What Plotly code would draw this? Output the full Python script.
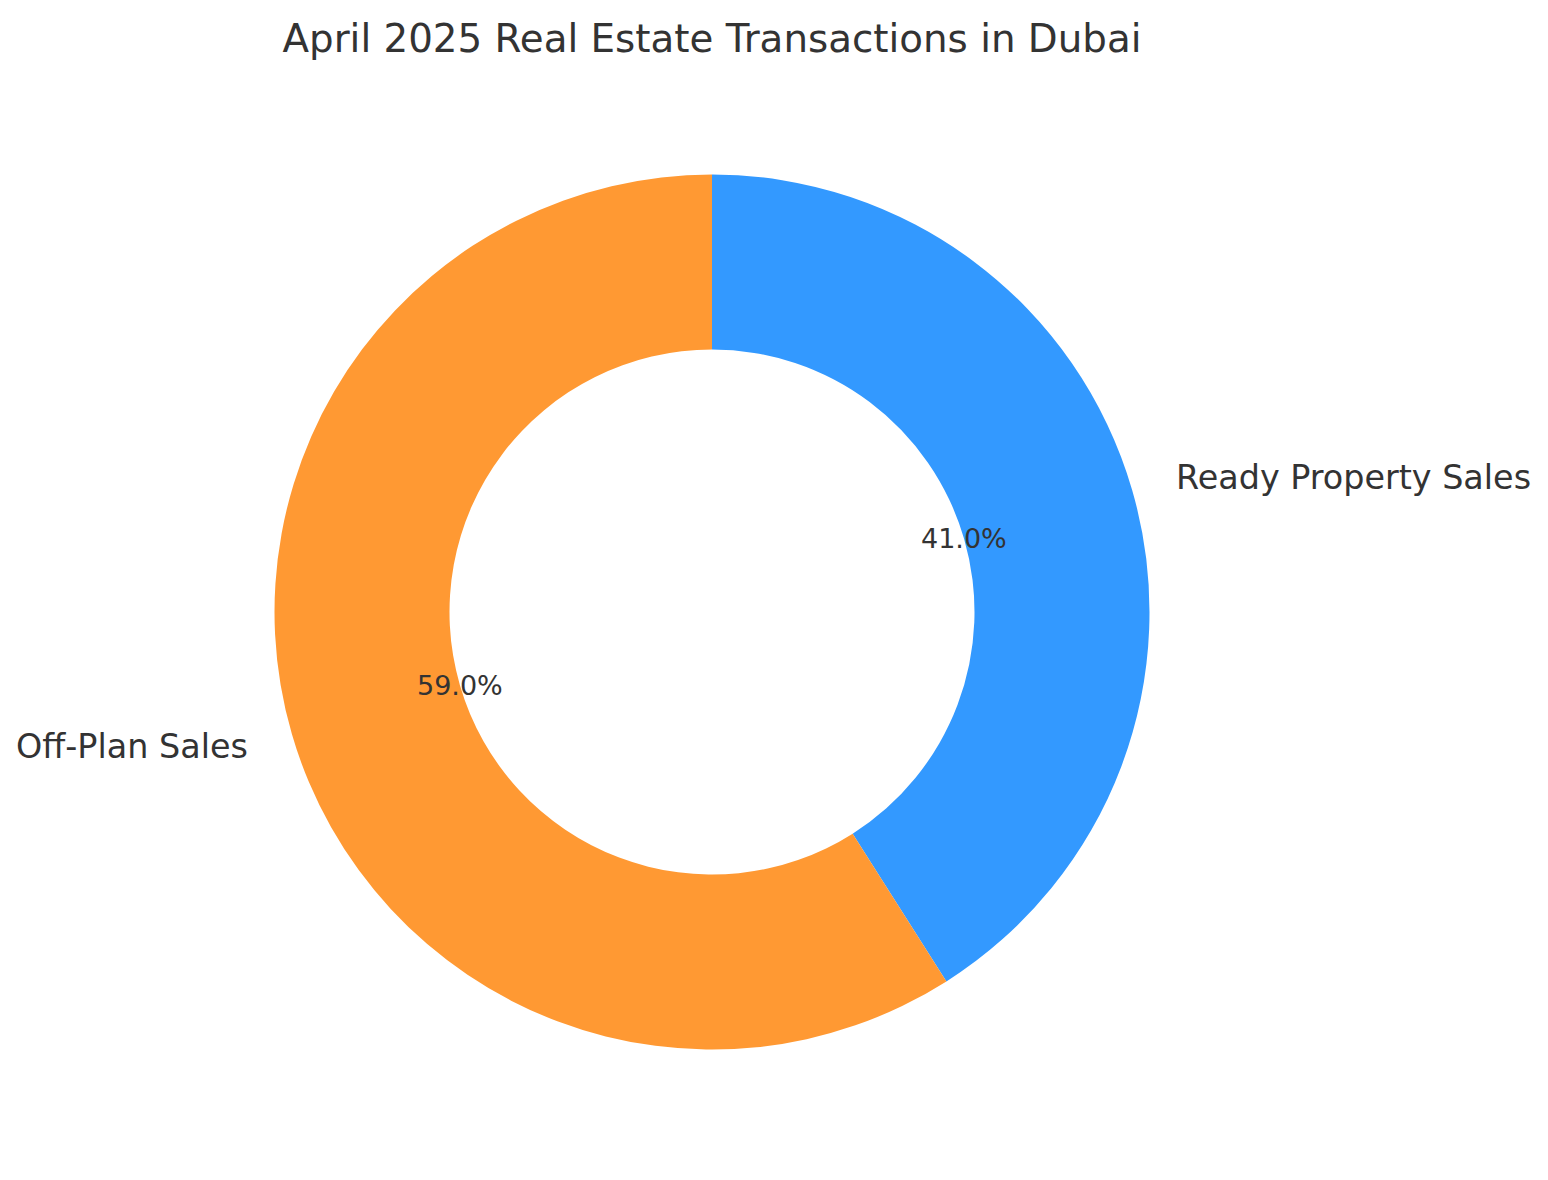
import math
import plotly.graph_objects as go

labels = ["Ready Property Sales", "Off-Plan Sales"]
values = [41.0, 59.0]
colors = ["#3399FF", "#FF9933"]
title_text = "April 2025 Real Estate Transactions in Dubai"

W, H = 1548, 1180
OFF = 8  # page body margin
cx_px, cy_px, R = 712 - OFF, 612 - OFF, 437.5
hole = 0.6

dom_x = [(cx_px - R) / W, (cx_px + R) / W]
dom_y = [(H - cy_px - R) / H, (H - cy_px + R) / H]
cx = cx_px / W
cy = (H - cy_px) / H

fig = go.Figure(go.Pie(
    labels=labels, values=values, sort=False, direction="clockwise",
    rotation=0, hole=hole, textinfo="none", hoverinfo="label+percent",
    marker=dict(colors=colors, line=dict(width=0)),
    domain=dict(x=dom_x, y=dom_y), showlegend=False,
))

annotations = []
total = sum(values)
start = 90.0
for lab, v in zip(labels, values):
    span = 360.0 * v / total
    mid = math.radians(start - span / 2)
    start -= span
    c, s = math.cos(mid), math.sin(mid)
    annotations.append(dict(
        x=cx + 1.1 * R * c / W, y=cy + 1.1 * R * s / H, xref="paper", yref="paper",
        text=lab, showarrow=False, xanchor="left" if c > 0 else "right", yanchor="middle",
        font=dict(family="DejaVu Sans", size=33.4, color="#333333"),
    ))
    annotations.append(dict(
        x=cx + 0.6 * R * c / W, y=cy + 0.6 * R * s / H, xref="paper", yref="paper",
        text=f"{100 * v / total:.1f}%", showarrow=False, xanchor="center", yanchor="middle",
        font=dict(family="DejaVu Sans", size=27, color="#333333"),
    ))

fig.update_layout(
    width=W, height=H, margin=dict(l=0, r=0, t=0, b=0),
    paper_bgcolor="white", plot_bgcolor="white",
    title=dict(text=title_text, x=cx, xanchor="center", xref="paper",
               y=1 - (38 - OFF) / H, yanchor="middle", yref="container",
               font=dict(family="DejaVu Sans", size=38.8, color="#333333")),
    annotations=annotations,
)

fig.write_html("out.html")
